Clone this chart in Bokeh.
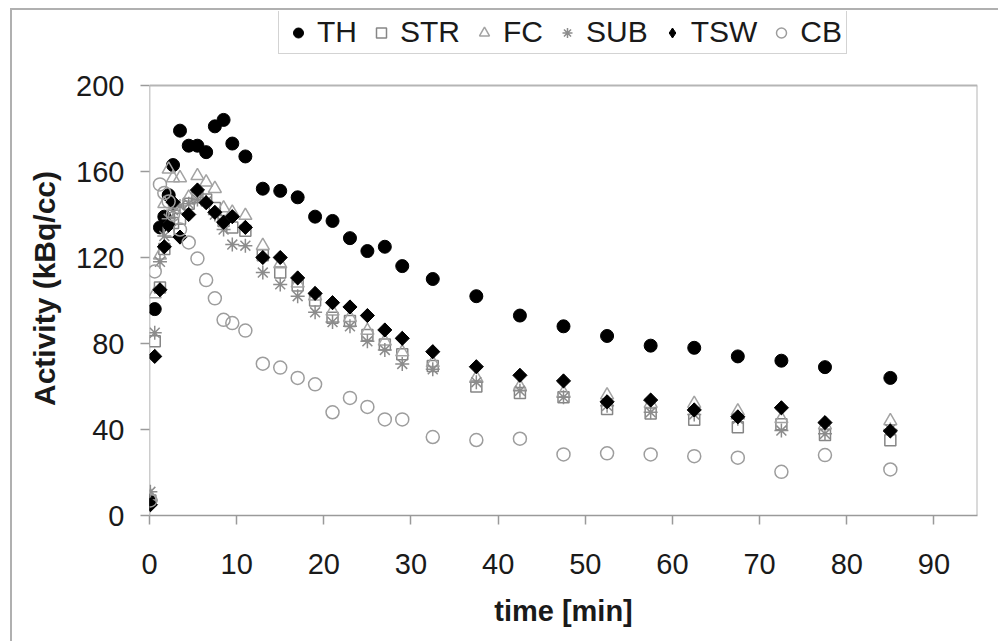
import numpy as np
from bokeh.plotting import figure
from bokeh.models import Legend, LegendItem, FixedTicker
from bokeh.embed import file_html
from bokeh.resources import INLINE

# ---- data ----
time_min = [0.1, 0.6, 1.2, 1.7, 2.2, 2.7, 3.5, 4.5, 5.5, 6.5, 7.5, 8.5, 9.5, 11, 13, 15, 17,
            19, 21, 23, 25, 27, 29, 32.5, 37.5, 42.5, 47.5, 52.5, 57.5, 62.5, 67.5, 72.5,
            77.5, 85]
TH = [7, 96, 134, 139, 149, 163, 179, 172, 172, 169, 181, 184, 173, 167, 152, 151, 148,
      139, 137, 129, 123, 125, 116, 110, 102, 93, 88, 83.5, 79, 78, 74, 72, 69, 64]
STR = [7, 81, 106, 124, 132, 136, 138, 145, 148, 147, 143, 137, 134, 132.5, 121, 113, 107,
       100, 92, 90.5, 84, 79.5, 75, 69.5, 60, 57, 55, 49.5, 47.5, 44.5, 41, 42.5, 37.5, 35]
FC = [9, 103, 121, 145, 161, 157, 157, 148, 158, 155, 152, 143, 141, 139.5, 125.5, 117, 108,
      102, 95, 92, 86, 81, 76, 71, 64, 60, 57, 56, 52, 52, 48.5, 45, 42, 44]
SUB = [11, 85, 118, 130, 138, 142, 144, 145, 147, 146, 140, 133, 126, 125.5, 113, 107.5, 102,
       94.5, 90, 88, 81, 77, 70.5, 68, 62, 58, 55, 51, 48, 47, 45, 39.5, 38, 40]
TSW = [5, 74, 105, 125, 135, 145.7, 129.5, 140, 151.4, 145.5, 141, 136.4, 139, 134, 120, 120,
       110.5, 103.3, 99, 97, 93, 86.3, 82.4, 76.2, 69.2, 65.2, 62.6, 52.9, 53.7, 49.1, 45.9,
       50.1, 43.2, 39.3]
CB = [7, 113.5, 154, 150, 146, 140, 133, 127, 119.5, 109.5, 101, 91, 89.5, 86, 70.6, 68.8, 64,
      61, 48, 54.7, 50.5, 44.7, 44.7, 36.5, 35.1, 35.7, 28.4, 28.9, 28.4, 27.6, 26.9, 20.3,
      28.1, 21.4]
series_names = ["TH", "STR", "FC", "SUB", "TSW", "CB"]
x_ticks = [0, 10, 20, 30, 40, 50, 60, 70, 80, 90]
y_ticks = [0, 40, 80, 120, 160, 200]
X_MAX = 95
Y_TOP = 200

FONT = "Liberation Sans"

# frame extends above the 200 line so the legend (drawn inside the frame) is not clipped
MB_TOP, MB_BOTTOM, H = 1, 128, 633
Y_EXT = Y_TOP * (H - MB_TOP - MB_BOTTOM) / 430.0

p = figure(width=988, height=H, x_range=(0, X_MAX), y_range=(0, Y_EXT),
           output_backend="svg", toolbar_location=None,
           min_border_left=137, min_border_right=23, min_border_top=MB_TOP,
           min_border_bottom=MB_BOTTOM)
p.styles = {"margin-left": "10px", "margin-top": "8px",
            "border-left": "2px solid #b0b0b0", "border-top": "2px solid #b0b0b0"}
p.background_fill_color = "white"
p.border_fill_color = "white"
p.xgrid.visible = False
p.ygrid.visible = False
p.outline_line_color = None

for ax in (p.xaxis[0], p.yaxis[0]):
    ax.axis_line_color = "#9a9a9a"
    ax.axis_line_width = 1.5
    ax.major_tick_line_color = "#9a9a9a"
    ax.major_tick_line_width = 1.5
    ax.major_tick_in = 0
    ax.major_tick_out = 9
    ax.minor_tick_line_color = None
    ax.major_label_text_font = FONT
    ax.major_label_text_font_size = "29px"
    ax.major_label_text_color = "#1a1a1a"
    ax.axis_label_text_font = FONT
    ax.axis_label_text_font_style = "bold"
    ax.axis_label_text_color = "#1a1a1a"
p.yaxis[0].axis_line_color = None

p.xaxis[0].ticker = FixedTicker(ticks=x_ticks)
p.yaxis[0].ticker = FixedTicker(ticks=y_ticks)
p.xaxis[0].axis_label = "time [min]"
p.yaxis[0].axis_label = "Activity (kBq/cc)" + "\u00a0" * 6
p.xaxis[0].axis_label_text_font_size = "29px"
p.yaxis[0].axis_label_text_font_size = "30px"
p.xaxis[0].major_label_standoff = 29
p.yaxis[0].major_label_standoff = 16
p.xaxis[0].axis_label_standoff = 18
p.yaxis[0].axis_label_standoff = 12

# plot-area frame: y axis line (0..200), top line at 200 and right line
p.segment(x0=[0], y0=[0], x1=[0], y1=[Y_TOP], line_color="#9a9a9a", line_width=1.5)
p.segment(x0=[0, X_MAX], y0=[Y_TOP, 0], x1=[X_MAX, X_MAX], y1=[Y_TOP, Y_TOP],
          line_color="#b5b5b5", line_width=2)

r_th = p.scatter(time_min, TH, marker="circle", size=13, fill_color="black", line_color="black")
r_str = p.scatter(time_min, STR, marker="square", size=11, fill_color=None,
                  line_color="#868686", line_width=1.5)
r_fc = p.scatter(time_min, FC, marker="triangle", size=13, fill_color=None,
                 line_color="#a3a3a3", line_width=1.5)
r_sub = p.scatter(time_min, SUB, marker="asterisk", size=14, line_color="#8c8c8c", line_width=1.5)
# TSW: diamond (used for the legend key) covered by a 45-degree square of the same colour
r_tsw_key = p.scatter(time_min, TSW, marker="diamond", size=13, fill_color="black",
                      line_color="black")
r_tsw = p.scatter(time_min, TSW, marker="square", angle=np.pi / 4, size=10,
                  fill_color="black", line_color="black")
r_cb = p.scatter(time_min, CB, marker="circle", size=13, fill_color=None,
                 line_color="#9d9d9d", line_width=1.5)

legend_renderers = [r_th, r_str, r_fc, r_sub, r_tsw_key, r_cb]
legend = Legend(items=[LegendItem(label=n, renderers=[r])
                       for n, r in zip(series_names, legend_renderers)],
                orientation="horizontal", location=(129, 461))
legend.label_text_font = FONT
legend.label_text_font_size = "30px"
legend.label_text_color = "#1a1a1a"
legend.glyph_width = 30
legend.glyph_height = 25
legend.label_standoff = 4
legend.spacing = 9
legend.padding = 4
legend.margin = 0
legend.border_line_color = "#a8a8a8"
legend.border_line_width = 1.5
legend.background_fill_color = "white"
legend.background_fill_alpha = 1.0
p.add_layout(legend, "center")

open("out.html", "w").write(file_html(p, INLINE))
